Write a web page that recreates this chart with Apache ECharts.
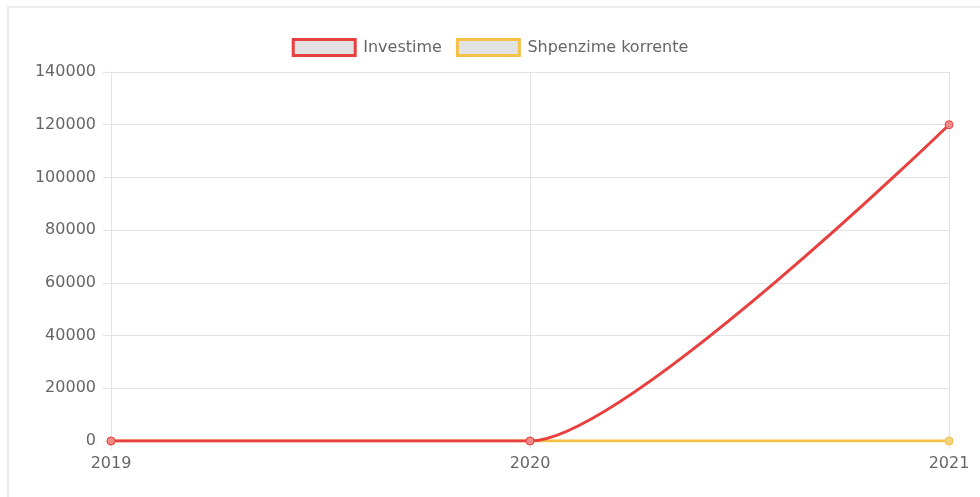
<!DOCTYPE html>
<html>
<head>
<meta charset="utf-8">
<script src="https://cdn.jsdelivr.net/npm/echarts@6/dist/echarts.min.js"></script>
<style>
html,body{margin:0;padding:0;background:#fff;overflow:hidden;}
#frame{position:absolute;left:7px;top:6px;width:1000px;height:520px;border:2px solid #ececec;box-sizing:border-box;}
#chart{position:absolute;left:0;top:0;width:980px;height:497px;}
</style>
</head>
<body>
<div id="frame"></div>
<div id="chart"></div>
<script>
const years = ['2019', '2020', '2021'];
const investime = [0, 0, 120000];
const shpenzimeKorrente = [0, 0, 0];
const seriesNames = ['Investime', 'Shpenzime korrente'];
const yMin = 0, yMax = 140000, yStep = 20000;

const RED = '#e8403f';
const YELLOW = '#f3c246';
const FONT = 'DejaVu Sans';

const chart = echarts.init(document.getElementById('chart'), null, {renderer: 'canvas'});
chart.setOption({
  animation: false,
  backgroundColor: 'transparent',
  legend: {
    top: 33,
    left: 'center',
    itemWidth: 62,
    itemHeight: 16,
    itemGap: 14,
    textStyle: {color: '#666', fontSize: 16, fontFamily: FONT, padding: [0, 0, 0, 3]},
    data: [
      {name: seriesNames[0], icon: 'rect', itemStyle: {color: '#e2e2e2', borderColor: RED, borderWidth: 3}},
      {name: seriesNames[1], icon: 'rect', itemStyle: {color: '#e2e2e2', borderColor: YELLOW, borderWidth: 3}}
    ]
  },
  grid: {left: 111, right: 31, top: 72, bottom: 56, containLabel: false},
  xAxis: {
    type: 'category',
    data: years,
    boundaryGap: false,
    axisLine: {show: true, lineStyle: {color: '#e3e3e3', width: 1}},
    axisTick: {show: true, length: 8, lineStyle: {color: '#e3e3e3'}},
    splitLine: {show: true, lineStyle: {color: '#e3e3e3', width: 1}},
    axisLabel: {color: '#666', fontSize: 16, fontFamily: FONT, margin: 15}
  },
  yAxis: {
    type: 'value',
    min: yMin, max: yMax, interval: yStep,
    axisLine: {show: true, lineStyle: {color: '#e3e3e3', width: 1}},
    axisTick: {show: true, length: 8, lineStyle: {color: '#e3e3e3'}},
    splitLine: {show: true, lineStyle: {color: '#e3e3e3', width: 1}},
    axisLabel: {color: '#666', fontSize: 16, fontFamily: FONT, margin: 15, formatter: function (v) { return String(v); }}
  },
  series: [
    {
      name: seriesNames[1],
      type: 'line',
      data: shpenzimeKorrente,
      smooth: 0.2,
      z: 2,
      symbol: 'circle',
      symbolSize: 8,
      showAllSymbol: true,
      lineStyle: {color: YELLOW, width: 3},
      itemStyle: {color: '#f1d27e', borderColor: YELLOW, borderWidth: 1}
    },
    {
      name: seriesNames[0],
      type: 'line',
      data: investime,
      smooth: 0.2,
      z: 3,
      symbol: 'circle',
      symbolSize: 8,
      showAllSymbol: true,
      lineStyle: {color: RED, width: 3},
      itemStyle: {color: '#f08a8a', borderColor: RED, borderWidth: 1}
    }
  ]
});
</script>
</body>
</html>
